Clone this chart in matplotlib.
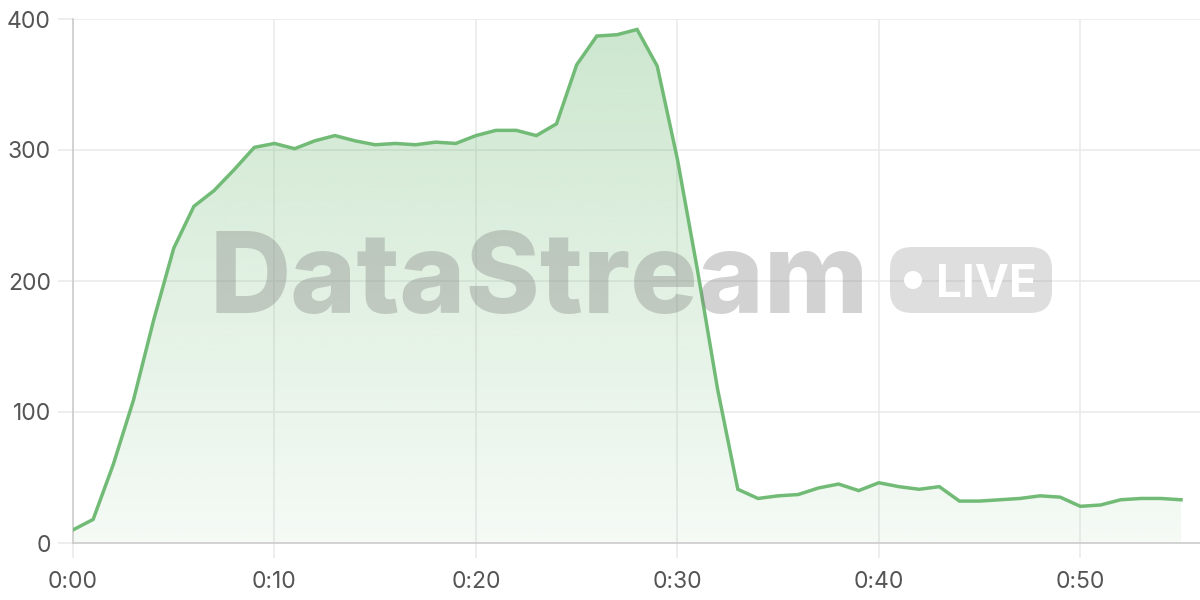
import numpy as np
import matplotlib.pyplot as plt
from matplotlib.patches import FancyBboxPatch, Circle
from matplotlib.colors import to_rgb

# minutes since start
minutes = list(range(56))
viewers = [10, 18, 60, 109, 170, 225, 257, 269, 285, 302,
           305, 301, 307, 311, 307, 304, 305, 304, 306, 305,
           311, 315, 315, 311, 320, 365, 387, 388, 392, 364,
           293, 208, 117, 41, 34, 36, 37, 42, 45, 40,
           46, 43, 41, 43, 32, 32, 33, 34, 36, 35,
           28, 29, 33, 34, 34, 33]
x_ticks = [0, 10, 20, 30, 40, 50]
x_labels = ["0:00", "0:10", "0:20", "0:30", "0:40", "0:50"]
y_ticks = [0, 100, 200, 300, 400]

line_color = "#72bb77"
plt.rcParams['font.family'] = ['Inter', 'DejaVu Sans']

fig = plt.figure(figsize=(12, 6), dpi=100)
ax = fig.add_axes([73/1200, 57/600, 1127/1200, 524/600])
ax.set_xlim(0, 55.94)
ax.set_ylim(0, 400)

# gradient fill under the line
poly = ax.fill_between(minutes, viewers, 0, color="none", lw=0, zorder=1)
r, g, b = to_rgb(line_color)
alpha = np.linspace(0.07, 0.36, 256).reshape(-1, 1)
grad = np.zeros((256, 1, 4))
grad[..., 0], grad[..., 1], grad[..., 2] = r, g, b
grad[..., 3] = alpha
img = ax.imshow(grad, extent=[0, 55, 0, 400], origin="lower", aspect="auto",
                zorder=1, interpolation="bilinear")
img.set_clip_path(poly.get_paths()[0], transform=ax.transData)

ax.plot(minutes, viewers, color=line_color, lw=2.5, zorder=4,
        solid_joinstyle="miter")

# watermark
fig.text(210/1200, 1 - 313/600, "DataStream", fontsize=81, fontweight=800,
         color="#7f7f7f", alpha=0.35, ha="left", va="baseline", zorder=3)
pill = FancyBboxPatch((890, 287), 162, 66, boxstyle="round,pad=0,rounding_size=22",
                      transform=None, facecolor="#7f7f7f", alpha=0.25, lw=0, zorder=3)
fig.patches.append(pill)
dot = Circle((913, 600 - 280), 9, transform=None, facecolor="white",
             lw=0, zorder=4)
fig.patches.append(dot)
fig.text(936/1200, 1 - 297/600, "LIVE", fontsize=33, fontweight="bold",
         color="white", ha="left", va="baseline", zorder=4)

ax.set_xticks(x_ticks)
ax.set_xticklabels(x_labels)
ax.set_yticks(y_ticks)
ax.grid(True, color="#ebebeb", lw=1.2, zorder=0)
ax.set_axisbelow(True)
for s in ["top", "right"]:
    ax.spines[s].set_visible(False)
for s in ["left", "bottom"]:
    ax.spines[s].set_color("#cccccc")
    ax.spines[s].set_linewidth(1.2)
ax.tick_params(axis="both", length=11, width=1.2, color="#ebebeb",
               labelsize=16.5, labelcolor="#555555")
ax.tick_params(axis="y", pad=5)
ax.tick_params(axis="x", pad=9)

fig.savefig("out.png", dpi=100)
